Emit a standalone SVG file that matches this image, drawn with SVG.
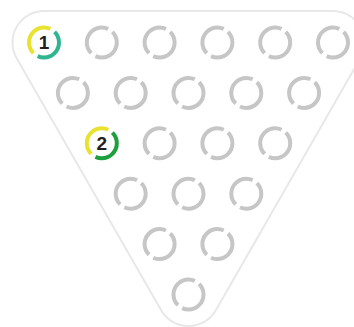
<svg xmlns="http://www.w3.org/2000/svg" width="354" height="327" viewBox="0 0 354 327">
<style>
.ring{fill:none;stroke:#c6c6c6;stroke-width:4;stroke-dasharray:44.5 5.5;stroke-dashoffset:12.53}
.arc{fill:none;stroke-width:4;stroke-dasharray:44.5 55.5}
.y{stroke:#e9e231;stroke-dashoffset:-37.47}
.t{stroke:#2fb691;stroke-dashoffset:-87.47}
.g{stroke:#1e9f3d;stroke-dashoffset:-87.47}
.num{font-family:"Liberation Sans",Arial,sans-serif;font-weight:bold;font-size:19px;fill:#231f20;text-anchor:middle}
</style>
<rect width="354" height="327" fill="#ffffff"/>
<path id="board" d="M44 11 H333 A31.5 31.5 0 0 1 360.33 58.17 L215.83 310.17 A31.5 31.5 0 0 1 161.17 310.17 L16.67 58.17 A31.5 31.5 0 0 1 44 11 Z" fill="#ffffff" stroke="#e8e8e8" stroke-width="2"/>
<g id="connectors"></g>
<g id="p1"><circle class="arc y" cx="44" cy="42.5" r="15" pathLength="100"/><circle class="arc t" cx="44" cy="42.5" r="15" pathLength="100"/><text class="num" x="44" y="49.3">1</text></g>
<g id="r0c1"><circle class="ring" cx="101.8" cy="42.5" r="15" pathLength="100"/></g>
<g id="r0c2"><circle class="ring" cx="159.6" cy="42.5" r="15" pathLength="100"/></g>
<g id="r0c3"><circle class="ring" cx="217.4" cy="42.5" r="15" pathLength="100"/></g>
<g id="r0c4"><circle class="ring" cx="275.2" cy="42.5" r="15" pathLength="100"/></g>
<g id="r0c5"><circle class="ring" cx="333" cy="42.5" r="15" pathLength="100"/></g>
<g id="r1c0"><circle class="ring" cx="72.9" cy="92.9" r="15" pathLength="100"/></g>
<g id="r1c1"><circle class="ring" cx="130.7" cy="92.9" r="15" pathLength="100"/></g>
<g id="r1c2"><circle class="ring" cx="188.5" cy="92.9" r="15" pathLength="100"/></g>
<g id="r1c3"><circle class="ring" cx="246.3" cy="92.9" r="15" pathLength="100"/></g>
<g id="r1c4"><circle class="ring" cx="304.1" cy="92.9" r="15" pathLength="100"/></g>
<g id="p2"><circle class="arc y" cx="101.8" cy="143.3" r="15" pathLength="100"/><circle class="arc g" cx="101.8" cy="143.3" r="15" pathLength="100"/><text class="num" x="101.8" y="150.1">2</text></g>
<g id="r2c1"><circle class="ring" cx="159.6" cy="143.3" r="15" pathLength="100"/></g>
<g id="r2c2"><circle class="ring" cx="217.4" cy="143.3" r="15" pathLength="100"/></g>
<g id="r2c3"><circle class="ring" cx="275.2" cy="143.3" r="15" pathLength="100"/></g>
<g id="r3c0"><circle class="ring" cx="130.7" cy="193.7" r="15" pathLength="100"/></g>
<g id="r3c1"><circle class="ring" cx="188.5" cy="193.7" r="15" pathLength="100"/></g>
<g id="r3c2"><circle class="ring" cx="246.3" cy="193.7" r="15" pathLength="100"/></g>
<g id="r4c0"><circle class="ring" cx="159.6" cy="244.1" r="15" pathLength="100"/></g>
<g id="r4c1"><circle class="ring" cx="217.4" cy="244.1" r="15" pathLength="100"/></g>
<g id="r5c0"><circle class="ring" cx="188.5" cy="294.5" r="15" pathLength="100"/></g>
</svg>
